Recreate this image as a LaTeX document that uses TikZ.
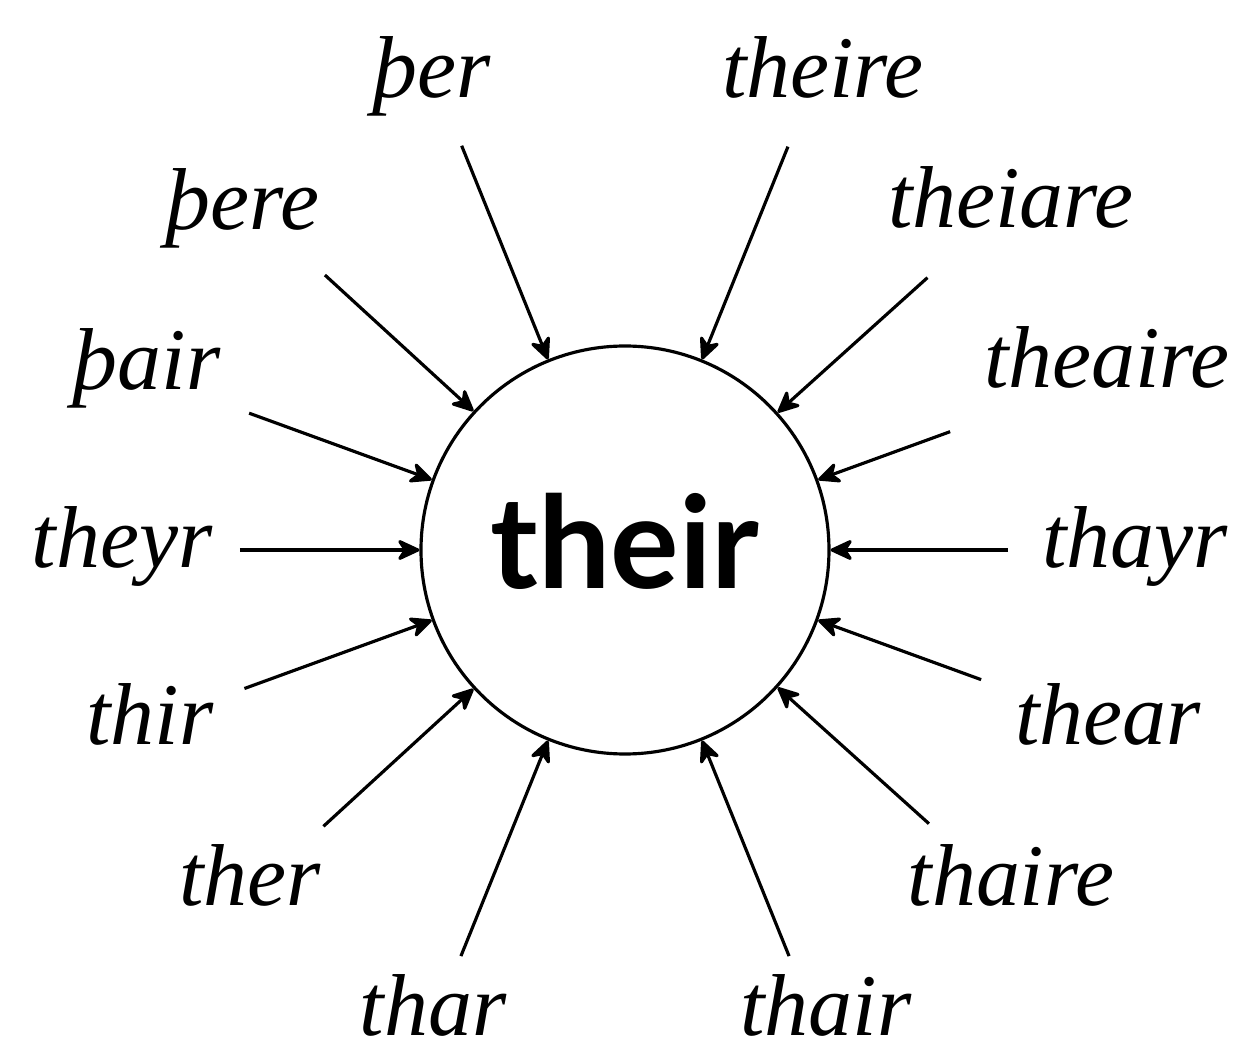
\documentclass[tikz,border=0pt]{standalone}
\usepackage{fontspec}
\setmainfont{Liberation Serif}
\newfontfamily\latofont{Lato}
\usetikzlibrary{arrows.meta}

\begin{document}
\begin{tikzpicture}[
    spelling/.style={anchor=base, inner sep=0pt, font=\fontsize{50}{60}\selectfont\itshape},
    toward/.style={-{Stealth[length=0.52cm, width=0.48cm, inset=0.16cm, round]}, line width=1.8pt},
  ]
  \useasboundingbox (-12.5,-10.04) rectangle (12.4,11.0);
  \node[circle, draw, line width=1.8pt, minimum size=8.16cm, inner sep=0pt,
        font=\fontsize{73}{88}\selectfont\latofont\bfseries,
        text height=1.92cm, text depth=0.40cm] (their) at (0,0) {their};
  \foreach \name/\ang/\tail/\x/\y/\word in {
      per/112/8.72/-3.86/9.04/þer,
      theire/68/8.70/3.96/9.04/theire,
      pere/137.5/8.14/-7.64/6.40/þere,
      theiare/42/8.14/7.72/6.44/theiare,
      pair/160/8.0/-9.56/3.20/þair,
      theaire/20/6.92/9.64/3.24/theaire,
      theyr/180/7.7/-10.06/-0.36/theyr,
      thayr/0/7.66/10.20/-0.36/thayr,
      thir/200/8.1/-9.50/-3.90/thir,
      thear/-20/7.58/9.66/-3.90/thear,
      ther/222.5/8.18/-7.50/-7.10/ther,
      thaire/-42/8.18/7.72/-7.10/thaire,
      thar/248/8.76/-3.84/-9.70/thar,
      thair/-68/8.76/4.02/-9.70/thair%
  } {
    \node[spelling] (\name) at (\x,\y) {\word};
    \coordinate (\name-tail) at (\ang:\tail);
    \draw[toward] (\name-tail) -- (their);
  }
\end{tikzpicture}
\end{document}
